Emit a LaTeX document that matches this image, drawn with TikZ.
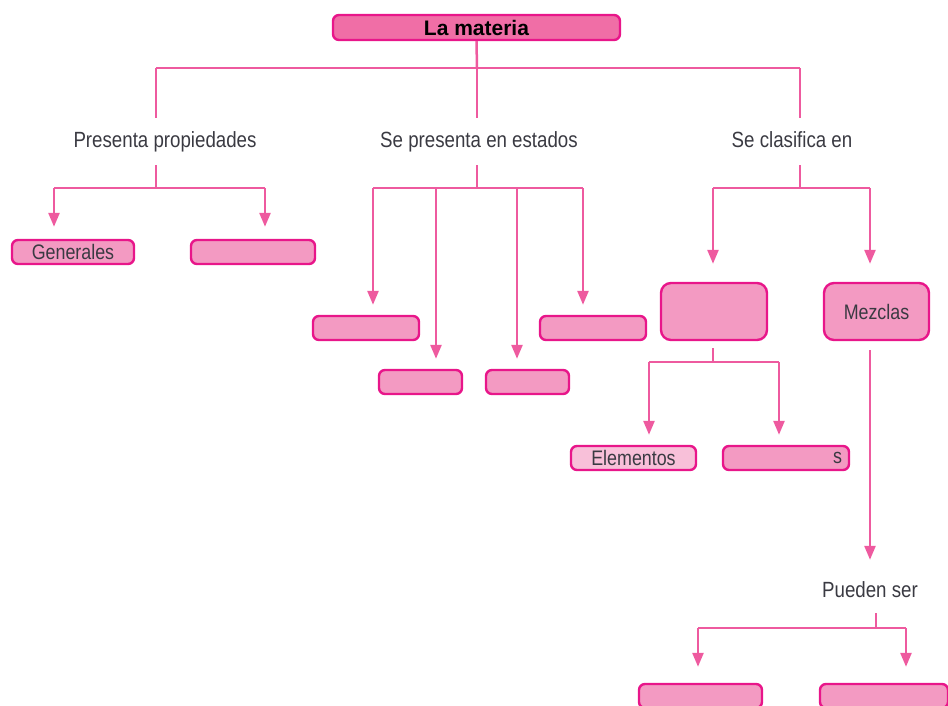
\documentclass[tikz,border=0pt]{standalone}
\usepackage{fontspec}
\setmainfont[FakeStretch=0.85]{Liberation Sans}
\newfontfamily\titlefont{Liberation Sans}
\usetikzlibrary{arrows.meta,positioning}

\definecolor{magborder}{HTML}{E8168A}
\definecolor{pinkfill}{HTML}{F39AC2}
\definecolor{darkfill}{HTML}{F06EA6}
\definecolor{palefill}{HTML}{F8C0D9}
\definecolor{linkpink}{HTML}{EE5A9F}
\definecolor{txtgray}{HTML}{3A3A42}

\tikzset{
  box/.style={draw=magborder, fill=pinkfill, line width=2.4pt,
    rounded corners=6pt, minimum height=24pt, inner sep=0pt,
    text=txtgray, font=\fontsize{21}{23}\selectfont},
  bigbox/.style={box, minimum height=57pt, rounded corners=10pt},
  lbl/.style={text=txtgray, inner xsep=4pt, inner ysep=13pt,
    text height=16pt, text depth=5pt, font=\fontsize{22}{24}\selectfont},
  link/.style={draw=linkpink, line width=2.5pt},
  arr/.style={link, -{Triangle[length=14pt,width=11pt]}, shorten >=10pt},
}

\begin{document}
\begin{tikzpicture}[x=1pt, y=-1pt]
    \useasboundingbox (0,0) rectangle (948,705);

    % root
    \node [box, fill=darkfill, minimum width=287pt, minimum height=25pt,
      text=black, font=\titlefont\bfseries\fontsize{21}{23}\selectfont]
      (materia) at (476.5, 27.5) {La materia};

    % labels
    \node [lbl] (prop)    at (165, 141.5) {Presenta propiedades};
    \node [lbl] (estados) at (479, 141.5) {Se presenta en estados};
    \node [lbl] (clasif)  at (792, 141.5) {Se clasifica en};
    \node [lbl, inner ysep=11pt] (pueden) at (870, 591.5) {Pueden ser};

    % propiedades
    \node [box, minimum width=122pt] (gen)   at ( 73, 252) {Generales};
    \node [box, minimum width=124pt] (espec) at (253, 252) {};

    % estados
    \node [box, minimum width=106pt] (solido)  at (366, 328) {};
    \node [box, minimum width=106pt] (gas)     at (593, 328) {};
    \node [box, minimum width=83pt]  (liquido) at (420.5, 382) {};
    \node [box, minimum width=83pt]  (plasma)  at (527.5, 382) {};

    % clasificacion
    \node [bigbox, minimum width=106pt] (puras)   at (714, 311.5) {};
    \node [bigbox, minimum width=105pt] (mezclas) at (876.5, 311.5) {Mezclas};
    \node [box, fill=palefill, minimum width=125pt] (elem) at (633.5, 458) {Elementos};
    \node [box, minimum width=126pt] (comp) at (786, 458) {};
    \node [anchor=east, text=txtgray, inner sep=0pt,
      font=\fontsize{21}{23}\selectfont] (compS) at ([xshift=-8pt]comp.east) {s};

    % mezclas
    \node [box, minimum width=123pt] (homog)   at (700.5, 696) {};
    \node [box, minimum width=128pt] (heterog) at (884, 696) {};

    % junctions
    \coordinate (t0) at (477,  68);
    \coordinate (t1) at (156,  68);
    \coordinate (t2) at (477,  68);
    \coordinate (t3) at (800,  68);
    \coordinate (p0) at (156, 188);
    \coordinate (pa) at ( 54, 188);
    \coordinate (pb) at (265, 188);
    \coordinate (e0) at (477, 188);
    \coordinate (c0) at (800, 188);
    \coordinate (ca) at (713, 188);
    \coordinate (cb) at (870, 188);
    \coordinate (u1) at (713, 348);
    \coordinate (u0) at (713, 362);
    \coordinate (ua) at (649, 362);
    \coordinate (ub) at (779, 362);
    \coordinate (m0) at (870, 350);
    \coordinate (h1) at (876, 613);
    \coordinate (h0) at (876, 628);
    \coordinate (ha) at (698, 628);
    \coordinate (hb) at (906, 628);

    % top level
    \draw [link] (materia.south) -- (t0);
    \draw [link] (t1) -- (t3);
    \foreach \t/\n in {t1/prop, t2/estados, t3/clasif} {
      \draw [link] (\t) -- (\t |- \n.north);
    }

    % propiedades
    \draw [link] (p0 |- prop.south) -- (p0);
    \draw [link] (pa) -- (pb);
    \draw [arr, shorten >=12pt] (pa) -- (pa |- gen.north);
    \draw [arr, shorten >=12pt] (pb) -- (pb |- espec.north);

    % estados
    \foreach \x/\n in {373/solido, 436/liquido, 517/plasma, 583/gas} {
      \coordinate (s\n) at (\x, 188);
      \draw [arr] (s\n) -- (s\n |- \n.north);
    }
    \draw [link] (e0 |- estados.south) -- (e0);
    \draw [link] (ssolido) -- (sgas);

    % clasificacion
    \draw [link] (c0 |- clasif.south) -- (c0);
    \draw [link] (ca) -- (cb);
    \draw [arr, shorten >=18pt] (ca) -- (ca |- puras.north);
    \draw [arr, shorten >=18pt] (cb) -- (cb |- mezclas.north);

    \draw [link] (u1) -- (u0);
    \draw [link] (ua) -- (ub);
    \draw [arr] (ua) -- (ua |- elem.north);
    \draw [arr] (ub) -- (ub |- comp.north);

    % mezclas
    \draw [arr] (m0) -- (m0 |- pueden.north);
    \draw [link] (h1) -- (h0);
    \draw [link] (ha) -- (hb);
    \draw [arr, shorten >=16pt] (ha) -- (ha |- homog.north);
    \draw [arr, shorten >=16pt] (hb) -- (hb |- heterog.north);
\end{tikzpicture}
\end{document}
